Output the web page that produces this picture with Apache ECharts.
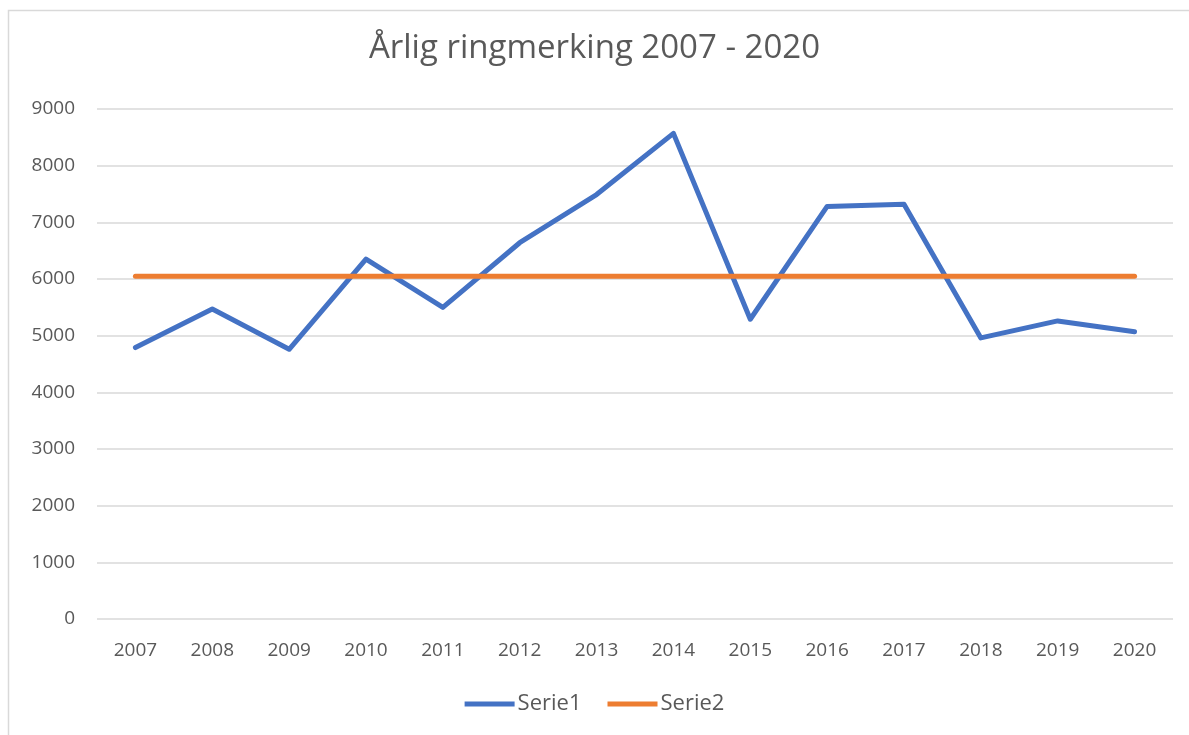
<!DOCTYPE html>
<html><head><meta charset="utf-8">
<script src="https://cdn.jsdelivr.net/npm/echarts@6/dist/echarts.min.js"></script>
<style>html,body{margin:0;padding:0;background:#fff}#c{width:1189px;height:735px}</style>
</head><body><div id="c"></div>
<script>
const years = ['2007','2008','2009','2010','2011','2012','2013','2014','2015','2016','2017','2018','2019','2020'];
const serie1 = [4790, 5470, 4760, 6350, 5500, 6640, 7490, 8570, 5290, 7280, 7320, 4960, 5260, 5070];
const serie2 = [6050, 6050, 6050, 6050, 6050, 6050, 6050, 6050, 6050, 6050, 6050, 6050, 6050, 6050];
const yTicks = [0, 1000, 2000, 3000, 4000, 5000, 6000, 7000, 8000, 9000];
const titleText = 'Årlig ringmerking 2007 - 2020';
const names = ['Serie1', 'Serie2'];

const font = 'Open Sans';
const chart = echarts.init(document.getElementById('c'), null, {renderer: 'canvas'});
chart.setOption({
  animation: false,
  backgroundColor: '#fff',
  graphic: [{type: 'rect', shape: {x: 8.5, y: 10.5, width: 1300, height: 900}, style: {fill: 'none', stroke: '#d9d9d9', lineWidth: 1.5}, silent: true}],
  title: {text: titleText, left: 'center', top: 27, textStyle: {fontFamily: font, fontSize: 33, fontWeight: 'normal', color: '#595959'}},
  legend: {data: names, bottom: 15, left: 'center', itemWidth: 50, itemHeight: 5, itemGap: 26,
    textStyle: {fontFamily: font, fontSize: 22, color: '#595959', padding: [0, 0, 0, -2]}, icon: 'rect'},
  grid: {left: 97, right: 16, top: 109, bottom: 116, containLabel: false},
  xAxis: {type: 'category', data: years, boundaryGap: true,
    axisLine: {show: false}, axisTick: {show: false},
    axisLabel: {fontFamily: font, fontSize: 19, color: '#595959', margin: 22}},
  yAxis: {type: 'value', min: yTicks[0], max: yTicks[yTicks.length - 1], interval: 1000,
    axisLine: {show: false}, axisTick: {show: false},
    splitLine: {lineStyle: {color: '#d9d9d9', width: 1.5}},
    axisLabel: {fontFamily: font, fontSize: 19, color: '#595959', margin: 22, formatter: v => String(v)}},
  series: [
    {name: names[0], type: 'line', data: serie1, symbol: 'none', color: '#4472C4',
      lineStyle: {width: 5, color: '#4472C4', cap: 'round', join: 'round'}},
    {name: names[1], type: 'line', data: serie2, symbol: 'none', color: '#ED7D31',
      lineStyle: {width: 5, color: '#ED7D31', cap: 'round', join: 'round'}}
  ]
});
</script></body></html>
